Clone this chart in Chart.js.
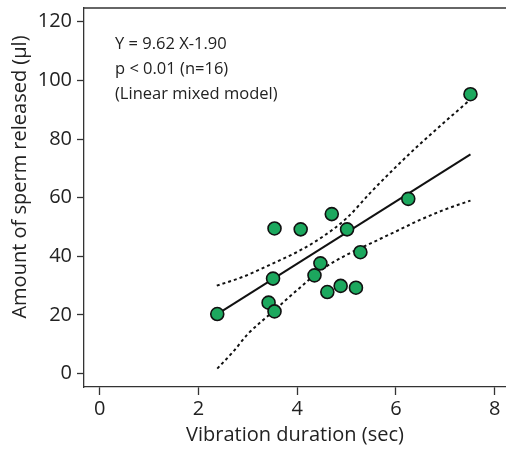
<!DOCTYPE html>
<html>
<head>
<meta charset="utf-8">
<script src="https://cdn.jsdelivr.net/npm/chart.js@4"></script>
<style>
  html, body { margin: 0; padding: 0; background: #fff; overflow: hidden; }
  #wrap { width: 506px; height: 451px; position: relative; }
  canvas { display: block; }
</style>
</head>
<body>
<div id="wrap"><canvas id="chart"></canvas></div>
<script>
// 散佈點資料 (秒, μl)
const durationSec = [2.38, 3.42, 3.54, 3.51, 3.54, 4.07, 4.35, 4.47, 4.61, 4.70, 4.88, 5.01, 5.19, 5.28, 6.25, 7.51];
const spermUl = [20.3, 24.2, 21.2, 32.4, 49.5, 49.2, 33.5, 37.6, 27.8, 54.4, 29.9, 49.2, 29.3, 41.4, 59.6, 95.3];

// 迴歸線
const fitX = [2.38, 7.51];
const fitY = [20.3, 74.8];

// 信賴區間 (虛線)
const upperX = [2.37, 2.9, 3.5, 4.0, 4.5, 5.0, 5.5, 6.0, 6.5, 7.0, 7.51];
const upperY = [30.0, 33.0, 37.5, 41.5, 46.5, 53.0, 62.0, 70.5, 78.5, 86.0, 93.5];
const lowerX = [2.38, 2.7, 3.0, 3.5, 4.0, 4.5, 5.0, 5.5, 6.0, 6.5, 7.0, 7.51];
const lowerY = [1.7, 7.4, 13.5, 21.0, 28.5, 35.5, 40.5, 44.5, 48.5, 52.5, 56.0, 59.0];

const xTicks = [0, 2, 4, 6, 8];
const yTicks = [0, 20, 40, 60, 80, 100, 120];

const noteLines = ['Y = 9.62 X-1.90', 'p < 0.01 (n=16)', '(Linear mixed model)'];
const xTitle = 'Vibration duration (sec)';
const yTitle = 'Amount of sperm released (μl)';

const FONT = "'Open Sans', sans-serif";
const AXIS = '#333';

const toXY = (xs, ys) => xs.map((x, i) => ({ x: x, y: ys[i] }));

// 清除軸的自動邊距
const noPad = (s) => {
    s.paddingTop = 0; s.paddingBottom = 0;
    s.paddingLeft = 0; s.paddingRight = 0;
};

// 上框線、y 軸標題、註解文字
const extras = {
    id: 'extras',
    afterDraw(chart) {
        const c = chart.ctx;
        const a = chart.chartArea;
        c.save();
        c.strokeStyle = AXIS;
        c.lineWidth = 1.3;
        c.beginPath();
        c.moveTo(a.left, a.top);
        c.lineTo(a.right, a.top);
        c.stroke();

        c.fillStyle = '#222';
        c.font = '16.5px ' + FONT;
        c.textAlign = 'left';
        c.textBaseline = 'alphabetic';
        noteLines.forEach((t, i) => c.fillText(t, 115, 49 + i * 25));

        c.translate(20, 177);
        c.rotate(-Math.PI / 2);
        c.font = '20px ' + FONT;
        c.textAlign = 'center';
        c.textBaseline = 'middle';
        c.fillText(yTitle, 0, 0);
        c.restore();
    }
};

const ctx = document.getElementById('chart');
new Chart(ctx, {
    type: 'scatter',
    data: {
        datasets: [{
            data: toXY(durationSec, spermUl),
            backgroundColor: '#1ca85e',
            borderColor: '#111',
            borderWidth: 1.6,
            pointRadius: 6.5,
            order: 0
        }, {
            data: toXY(fitX, fitY),
            showLine: true,
            borderColor: '#111',
            borderWidth: 2,
            pointRadius: 0,
            order: 1
        }, {
            data: toXY(upperX, upperY),
            showLine: true,
            borderColor: '#111',
            borderWidth: 2,
            borderDash: [3, 3],
            cubicInterpolationMode: 'monotone',
            pointRadius: 0,
            order: 2
        }, {
            data: toXY(lowerX, lowerY),
            showLine: true,
            borderColor: '#111',
            borderWidth: 2,
            borderDash: [3, 3],
            cubicInterpolationMode: 'monotone',
            pointRadius: 0,
            order: 2
        }]
    },
    options: {
        responsive: true,
        maintainAspectRatio: false,
        animation: false,
        layout: { autoPadding: false, padding: { top: 8, right: 0, left: 0, bottom: 0 } },
        plugins: {
            legend: { display: false },
            tooltip: { enabled: false }
        },
        scales: {
            x: {
                type: 'linear',
                min: -0.32,
                max: 8.23,
                afterBuildTicks: (s) => { s.ticks = xTicks.map(v => ({ value: v })); },
                afterFit: (s) => { s.height = 64; noPad(s); },
                grid: { drawOnChartArea: false, drawTicks: true, tickLength: 8, tickColor: AXIS, tickWidth: 1.3 },
                border: { display: true, color: AXIS, width: 1.3 },
                ticks: { padding: 2, color: '#222', font: { family: FONT, size: 20 } },
                title: { display: true, text: xTitle, color: '#222', font: { family: FONT, size: 20 }, padding: { top: 0 } }
            },
            y: {
                type: 'linear',
                min: -4.58,
                max: 124.7,
                afterBuildTicks: (s) => { s.ticks = yTicks.map(v => ({ value: v })); },
                afterFit: (s) => { s.width = 84; noPad(s); },
                grid: { drawOnChartArea: false, drawTicks: true, tickLength: 7, tickColor: AXIS, tickWidth: 1.3 },
                border: { display: true, color: AXIS, width: 1.3 },
                ticks: { padding: 5, color: '#222', font: { family: FONT, size: 20 } }
            }
        }
    },
    plugins: [extras]
});
</script>
</body>
</html>
